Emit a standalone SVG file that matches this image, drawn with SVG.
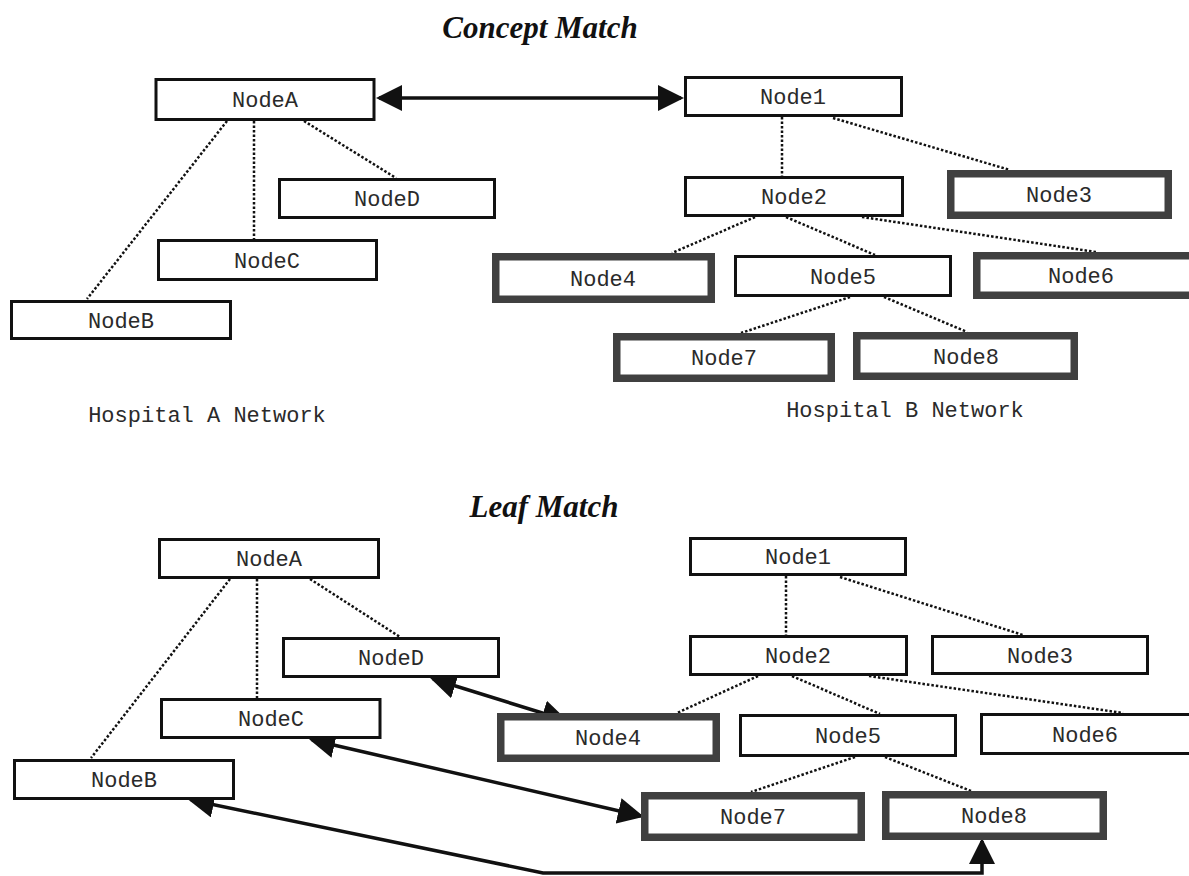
<svg xmlns="http://www.w3.org/2000/svg" width="1189" height="876" viewBox="0 0 1189 876">
<style>
.bg{fill:#fff}
.box{fill:#fff;stroke:#111;stroke-width:3}
.leaf{fill:#fff;stroke:#404040;stroke-width:7.5}
.lbl{font-family:"Liberation Mono","Courier New",monospace;font-size:22px;fill:#2a2a2a;text-anchor:middle}
.title{font-family:"Liberation Serif","Times New Roman",serif;font-size:31px;font-weight:bold;font-style:italic;fill:#111;text-anchor:middle}
.dot{stroke:#111;stroke-width:2.5;stroke-dasharray:2.5 2;fill:none}
.arr{stroke:#111;stroke-width:3.5;fill:none;marker-end:url(#ah);marker-start:url(#ah)}
</style>
<defs>
<marker id="ah" markerUnits="userSpaceOnUse" viewBox="0 0 26 26" markerWidth="26" markerHeight="26" refX="23" refY="13" orient="auto-start-reverse">
<path d="M0,0 L26,13 L0,26 z" fill="#111"/>
</marker>
</defs>
<rect class="bg" x="0" y="0" width="1189" height="876"/>
<text class="title" x="540" y="38">Concept Match</text>
<text class="title" x="544" y="517">Leaf Match</text>
<text class="lbl" x="207" y="422">Hospital A Network</text>
<text class="lbl" x="905" y="417">Hospital B Network</text>

<g id="connectors">
<line class="dot" x1="227" y1="121" x2="87" y2="299"/>
<line class="dot" x1="254" y1="121" x2="254" y2="239"/>
<line class="dot" x1="304" y1="121" x2="396" y2="178"/>
<line class="dot" x1="782" y1="117" x2="782" y2="176"/>
<line class="dot" x1="833" y1="118" x2="1010" y2="170"/>
<line class="dot" x1="755" y1="217" x2="672" y2="253"/>
<line class="dot" x1="786" y1="217" x2="875" y2="255"/>
<line class="dot" x1="862" y1="217" x2="1096" y2="252"/>
<line class="dot" x1="850" y1="297" x2="741" y2="333"/>
<line class="dot" x1="884" y1="297" x2="967" y2="332"/>
<line class="arr" x1="379" y1="98" x2="681" y2="98"/>

<line class="dot" x1="230" y1="579" x2="91" y2="758"/>
<line class="dot" x1="257" y1="579" x2="257" y2="698"/>
<line class="dot" x1="310" y1="579" x2="400" y2="637"/>
<line class="dot" x1="786" y1="576" x2="786" y2="635"/>
<line class="dot" x1="840" y1="577" x2="1023" y2="635"/>
<line class="dot" x1="758" y1="676" x2="677" y2="713"/>
<line class="dot" x1="792" y1="676" x2="880" y2="714"/>
<line class="dot" x1="869" y1="676" x2="1123" y2="713"/>
<line class="dot" x1="855" y1="757" x2="751" y2="792"/>
<line class="dot" x1="885" y1="757" x2="971" y2="791"/>
<line class="arr" x1="433" y1="679" x2="565" y2="720"/>
<line class="arr" x1="312" y1="740" x2="641" y2="816"/>
<polyline class="arr" points="191,800 543,873 982,873 982,841"/>
</g>

<g id="top-nodeA"><rect class="box" x="156" y="79.5" width="218" height="40"/><text class="lbl" x="265" y="107">NodeA</text></g>
<g id="top-nodeD"><rect class="box" x="279.5" y="179.5" width="215" height="38"/><text class="lbl" x="387" y="206">NodeD</text></g>
<g id="top-nodeC"><rect class="box" x="158.5" y="240.5" width="218" height="39"/><text class="lbl" x="267" y="268">NodeC</text></g>
<g id="top-nodeB"><rect class="box" x="11.5" y="301.5" width="219" height="37"/><text class="lbl" x="121" y="328">NodeB</text></g>
<g id="top-node1"><rect class="box" x="685.5" y="77.5" width="216" height="38"/><text class="lbl" x="793" y="104">Node1</text></g>
<g id="top-node2"><rect class="box" x="685.5" y="177.5" width="217" height="38"/><text class="lbl" x="794" y="204">Node2</text></g>
<g id="top-node3"><rect class="leaf" x="950.75" y="173.75" width="217.5" height="41.5"/><text class="lbl" x="1059" y="202">Node3</text></g>
<g id="top-node4"><rect class="leaf" x="495.75" y="256.75" width="215.5" height="42.5"/><text class="lbl" x="603" y="286">Node4</text></g>
<g id="top-node5"><rect class="box" x="735.5" y="256.5" width="215" height="39"/><text class="lbl" x="843" y="284">Node5</text></g>
<g id="top-node6"><rect class="leaf" x="976.75" y="255.75" width="220" height="39.5"/><text class="lbl" x="1081" y="283">Node6</text></g>
<g id="top-node7"><rect class="leaf" x="616.75" y="336.75" width="214.5" height="41.5"/><text class="lbl" x="724" y="365">Node7</text></g>
<g id="top-node8"><rect class="leaf" x="856.75" y="335.75" width="217.5" height="40.5"/><text class="lbl" x="966" y="364">Node8</text></g>

<g id="bot-nodeA"><rect class="box" x="159.5" y="539.5" width="219" height="38"/><text class="lbl" x="269" y="566">NodeA</text></g>
<g id="bot-nodeD"><rect class="box" x="283.5" y="638.5" width="215" height="38"/><text class="lbl" x="391" y="665">NodeD</text></g>
<g id="bot-nodeC"><rect class="box" x="161.5" y="699.5" width="218.5" height="38"/><text class="lbl" x="271" y="726">NodeC</text></g>
<g id="bot-nodeB"><rect class="box" x="14.5" y="760.5" width="219" height="38"/><text class="lbl" x="124" y="787">NodeB</text></g>
<g id="bot-node1"><rect class="box" x="690.5" y="538.5" width="215" height="36"/><text class="lbl" x="798" y="564">Node1</text></g>
<g id="bot-node2"><rect class="box" x="690.5" y="636.5" width="216" height="38"/><text class="lbl" x="798" y="663">Node2</text></g>
<g id="bot-node3"><rect class="box" x="932.5" y="636.5" width="215" height="37"/><text class="lbl" x="1040" y="663">Node3</text></g>
<g id="bot-node4"><rect class="leaf" x="500.75" y="716.75" width="215.5" height="41.5"/><text class="lbl" x="608" y="745">Node4</text></g>
<g id="bot-node5"><rect class="box" x="740.5" y="715.5" width="215" height="40"/><text class="lbl" x="848" y="743">Node5</text></g>
<g id="bot-node6"><rect class="box" x="981.5" y="714.5" width="215" height="39"/><text class="lbl" x="1085" y="742">Node6</text></g>
<g id="bot-node7"><rect class="leaf" x="644.75" y="795.75" width="216.5" height="41.5"/><text class="lbl" x="753" y="824">Node7</text></g>
<g id="bot-node8"><rect class="leaf" x="885.75" y="794.75" width="217.5" height="41.5"/><text class="lbl" x="994" y="823">Node8</text></g>
</svg>
